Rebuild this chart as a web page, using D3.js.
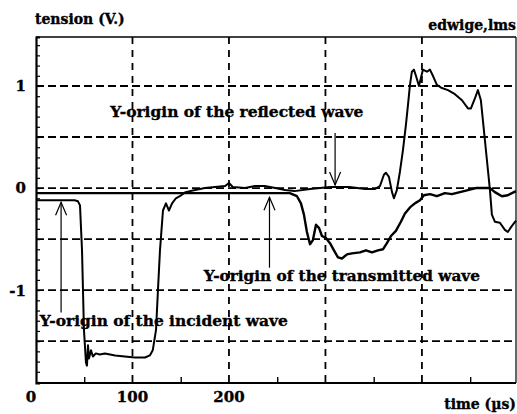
<!DOCTYPE html>
<html>
<head>
<meta charset="utf-8">
<script src="https://cdn.jsdelivr.net/npm/d3@7"></script>
<style>
  html, body { margin: 0; padding: 0; background: #fff; }
  svg { display: block; }
  text { font-family: "DejaVu Serif", "Liberation Serif", serif; font-weight: bold; fill: #000; stroke: #000; stroke-width: 0.35px; }
</style>
</head>
<body>
<svg id="chart" width="517" height="414"></svg>
<script>
// ---- Data ----
// Incident-bar gauge: incident wave, then reflected wave (time in µs, tension in V)
const incidentTime = [0, 40, 43.5, 45.6, 47.7, 49.7, 51.8, 52.8, 53.9, 54.9, 57, 59, 62, 66, 71.5, 82, 92, 102.6, 113, 118, 121, 124.4, 126.4, 128.5, 131.6, 134.7, 137.8, 141, 145, 149, 155, 165, 175, 185.5, 196, 200, 204, 216.6, 227, 237, 248, 258, 268, 284, 305, 325, 341, 351, 356.5, 360.6, 362.7, 365.8, 369, 371, 374, 377.2, 380.3, 383.4, 385.5, 387.6, 389.6, 391.7, 393.8, 396.9, 399, 401, 405.2, 408.3, 411.4, 415.5, 420.7, 427, 434.2, 441.5, 447.7, 450.8, 455, 458, 461.1, 464.2, 467.4, 470.5, 472.5, 475.6, 480.8, 486, 489, 493.3, 497.5];
const incidentVolt = [-0.12, -0.12, -0.13, -0.17, -0.61, -1.39, -1.71, -1.74, -1.54, -1.67, -1.59, -1.65, -1.62, -1.63, -1.62, -1.64, -1.65, -1.66, -1.66, -1.64, -1.59, -1.39, -1.0, -0.61, -0.22, -0.15, -0.22, -0.15, -0.10, -0.08, -0.04, -0.02, 0.0, 0.01, 0.02, 0.05, 0.01, 0.0, 0.02, 0.02, 0.0, -0.02, -0.03, -0.01, 0.01, 0.01, -0.01, -0.01, 0.02, 0.13, 0.15, 0.11, -0.04, -0.10, -0.02, 0.16, 0.37, 0.62, 0.81, 1.01, 1.14, 1.16, 1.10, 1.0, 1.08, 1.16, 1.14, 1.16, 1.10, 1.01, 0.98, 0.96, 0.92, 0.86, 0.78, 0.78, 0.88, 0.96, 0.86, 0.57, 0.27, -0.02, -0.26, -0.33, -0.34, -0.41, -0.43, -0.37, -0.32];

// Transmitted-bar gauge: transmitted wave
const transmittedTime = [0, 40, 80, 120, 160, 200, 232, 263, 270.5, 274.6, 277.7, 280.8, 284, 287, 290.2, 293.3, 296.4, 300.5, 304.7, 308.8, 313, 317.1, 322.3, 327.5, 335.8, 342, 348.2, 354.4, 359.6, 363.7, 367.9, 373, 378.2, 382.4, 387.6, 392.7, 398, 402, 408.3, 415.5, 423.8, 431, 439.4, 447.7, 456, 464.2, 470.5, 475.6, 482.9, 489, 497.5];
const transmittedVolt = [-0.05, -0.05, -0.05, -0.05, -0.05, -0.05, -0.05, -0.05, -0.08, -0.15, -0.26, -0.43, -0.55, -0.51, -0.36, -0.39, -0.47, -0.49, -0.54, -0.61, -0.68, -0.69, -0.65, -0.64, -0.63, -0.61, -0.63, -0.61, -0.60, -0.54, -0.47, -0.42, -0.33, -0.25, -0.19, -0.15, -0.12, -0.07, -0.06, -0.08, -0.05, -0.06, -0.04, -0.02, 0.0, 0.0, 0.0, -0.04, -0.08, -0.07, -0.03];

// Axis ticks and labels
const yGridValues = [1, 0.5, 0, -0.5, -1, -1.5];
const yTickLabels = [{v: 1, t: "1"}, {v: 0, t: "0"}, {v: -1, t: "-1"}];
const xGridValues = [100, 200, 300, 400];
const xMinorTicks = [50, 150, 250, 350, 450];
const xTickLabels = [{v: 0, t: "0"}, {v: 100, t: "100"}, {v: 200, t: "200"}];

// Annotations: label text and the point each arrow indicates
const annotations = [
  {text: "Y-origin of the reflected wave",   tx: 77,  ty: 0.70,  len: 253, ax: 310, a0: 0.54,  a1: 0.03,  dir: "down"},
  {text: "Y-origin of the transmitted wave", tx: 174, ty: -0.91, len: 276, ax: 242, a0: -0.78, a1: -0.09, dir: "up"},
  {text: "Y-origin of the incident wave",    tx: 4,   ty: -1.35, len: 248, ax: 26,  a0: -1.22, a1: -0.14, dir: "up"}
];

// ---- Chart ----
const svg = d3.select("#chart");
const x = d3.scaleLinear().domain([0, 497.5]).range([36, 516]);
const y = d3.scaleLinear().domain([-1.91, 1.48]).range([383, 37]);

// Grid
svg.append("g").selectAll("line").data(yGridValues).join("line")
  .attr("x1", x(0)).attr("x2", x(497.5))
  .attr("y1", d => y(d)).attr("y2", d => y(d))
  .attr("stroke", "#000").attr("stroke-width", 1.8).attr("stroke-dasharray", "8,4");
svg.append("g").selectAll("line").data(xGridValues).join("line")
  .attr("x1", d => x(d)).attr("x2", d => x(d))
  .attr("y1", y(1.48)).attr("y2", y(-1.91))
  .attr("stroke", "#000").attr("stroke-width", 1.8).attr("stroke-dasharray", "7,6");

// Frame
svg.append("line").attr("x1", x(0)).attr("x2", x(497.5)).attr("y1", y(1.48)).attr("y2", y(1.48))
  .attr("stroke", "#000").attr("stroke-width", 1.5);
svg.append("line").attr("x1", x(497.5)).attr("x2", x(497.5)).attr("y1", y(1.48)).attr("y2", y(-1.91))
  .attr("stroke", "#000").attr("stroke-width", 1.2);

// Left axis with minor ticks every 0.1 V (drawn inward)
const yAxis = d3.axisRight(y).tickValues(d3.range(-19, 15).map(i => i / 10)).tickSize(4).tickFormat("");
const gy = svg.append("g").attr("transform", `translate(${x(0)},0)`).call(yAxis);
gy.select(".domain").attr("stroke-width", 2.2);
gy.selectAll(".tick line").attr("stroke-width", 1.2);

// Bottom axis with inward ticks at 50, 150, ...
const xAxis = d3.axisTop(x).tickValues(xMinorTicks).tickSize(6).tickFormat("");
const gx = svg.append("g").attr("transform", `translate(0,${y(-1.91)})`).call(xAxis);
gx.select(".domain").attr("stroke-width", 2.2).attr("d", `M${x(0)},0H${x(497.5)}`);
gx.selectAll(".tick line").attr("stroke-width", 1.4);

// Tick labels
svg.append("g").selectAll("text").data(yTickLabels).join("text")
  .attr("x", 26).attr("y", d => y(d.v)).attr("dy", "0.36em")
  .attr("text-anchor", "end").attr("font-size", 15).text(d => d.t);
svg.append("g").selectAll("text").data(xTickLabels).join("text")
  .attr("x", d => d.v === 0 ? x(d.v) - 5 : x(d.v)).attr("y", 402)
  .attr("text-anchor", "middle").attr("font-size", 15).text(d => d.t);

// Titles
svg.append("text").attr("x", 35).attr("y", 24).attr("font-size", 14).text("tension (V.)");
svg.append("text").attr("x", 516).attr("y", 30).attr("text-anchor", "end").attr("font-size", 14).text("edwige,lms");
svg.append("text").attr("x", 516).attr("y", 409).attr("text-anchor", "end").attr("font-size", 14).text("time (µs)");

// Curves
const line = d3.line().x(d => x(d[0])).y(d => y(d[1]));
const incident = incidentTime.map((t, i) => [t, incidentVolt[i]]);
const transmitted = transmittedTime.map((t, i) => [t, transmittedVolt[i]]);
svg.append("path").datum(transmitted).attr("d", line)
  .attr("fill", "none").attr("stroke", "#000").attr("stroke-width", 2.4).attr("stroke-linejoin", "round");
svg.append("path").datum(incident).attr("d", line)
  .attr("fill", "none").attr("stroke", "#000").attr("stroke-width", 2).attr("stroke-linejoin", "round");

// Annotations
annotations.forEach(a => {
  svg.append("text").attr("x", x(a.tx)).attr("y", y(a.ty)).attr("font-size", 14.5)
    .attr("textLength", a.len).attr("lengthAdjust", "spacingAndGlyphs").text(a.text);
  const ax = x(a.ax), y0 = y(a.a0), y1 = y(a.a1);
  svg.append("line").attr("x1", ax).attr("x2", ax).attr("y1", y0).attr("y2", y1)
    .attr("stroke", "#000").attr("stroke-width", 1.2);
  const s = a.dir === "down" ? -1 : 1;
  svg.append("path")
    .attr("d", `M${ax - 5.5},${y1 + s * 13}L${ax},${y1}L${ax + 5.5},${y1 + s * 13}`)
    .attr("fill", "none").attr("stroke", "#000").attr("stroke-width", 1.2);
});
</script>
</body>
</html>
